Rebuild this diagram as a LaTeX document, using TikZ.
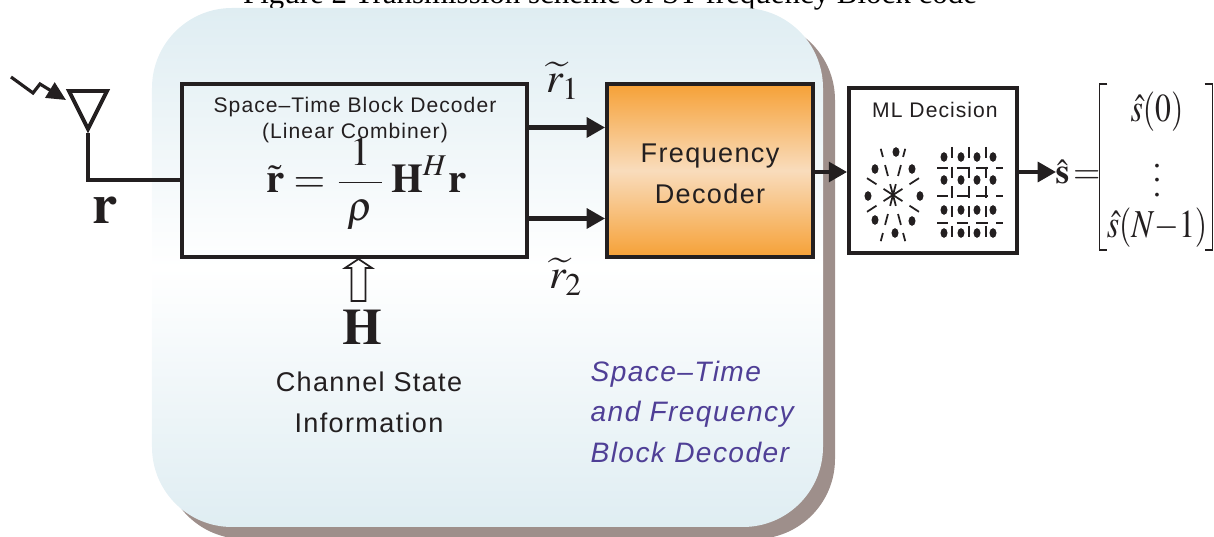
\documentclass[tikz,border=0pt]{standalone}
\usepackage[no-math]{fontspec}
\usepackage{amsmath}
\usepackage{mathptmx}
\setmainfont{Liberation Serif}
\newfontfamily\lblfont[LetterSpace=5]{Liberation Sans}
\usetikzlibrary{arrows.meta, positioning, shadows}
\definecolor{panelblue}{HTML}{DFEDF2}
\definecolor{panelshade}{HTML}{9E8F8B}
\definecolor{freqorange}{HTML}{F6A137}
\definecolor{freqlight}{HTML}{F9DCBC}
\definecolor{inkblack}{HTML}{231F20}
\definecolor{notepurple}{HTML}{4F3F96}

\begin{document}
\begin{tikzpicture}[node distance=0.8cm, inner sep=0pt,
  blk/.style={draw=inkblack,line width=1.15pt,align=center},
  lbl/.style={font=\fontsize{7.7}{11.6}\selectfont\lblfont,text=inkblack,align=center},
  sig/.style={-{Triangle[length=5.2pt,width=5.6pt]},line width=1.15pt,draw=inkblack},
  mth/.style={text=inkblack,font=\fontsize{11.6}{14}\selectfont}]
  \useasboundingbox (0,0) rectangle (12.14,5.37);
  \node[anchor=base,font=\fontsize{8.8}{10}\selectfont] (title) at (6.1,5.33) {Figure 2 Transmission scheme of ST-frequency Block code};

  % big rounded panel
  \node[minimum width=6.71cm,minimum height=5.19cm,rounded corners=0.8cm,top color=panelblue,bottom color=panelblue,middle color=white,
    drop shadow={shadow xshift=0.12cm,shadow yshift=-0.12cm,fill=panelshade,opacity=1}] (panel) at (4.875,2.695) {};

  \node[blk,minimum width=3.45cm,minimum height=1.73cm] (dec) at (3.545,3.665) {};
  \node[blk,minimum width=2.06cm,minimum height=1.73cm,right=0.76cm of dec,top color=freqorange,bottom color=freqorange,middle color=freqlight] (freq) {};
  \node[blk,fill=white,minimum width=1.68cm,minimum height=1.65cm,right=0.32cm of freq] (ml) {};

  \node[lbl,font=\fontsize{6}{7.4}\selectfont\lblfont] (dectxt) at (3.55,4.17) {Space–Time Block Decoder\\(Linear Combiner)};
  \node[mth] (eq) at (3.665,3.53) {$\displaystyle\tilde{\mathbf{r}}=\frac{\;1\;}{\;\rho\;}\,\mathbf{H}^{H}\mathbf{r}$};
  \node[lbl,yshift=-0.03cm] (freqtxt) at (freq) {Frequency\\Decoder};
  \node[lbl,font=\fontsize{6}{8}\selectfont\lblfont] (mltxt) at (9.35,4.27) {ML Decision};

  % antenna
  \coordinate (ant) at (0.88,4.04);
  \draw[line width=1.1pt,draw=inkblack] (0.69,4.46) -- (1.07,4.46) -- (0.88,4.08) -- cycle;
  \draw[line width=1.1pt,draw=inkblack] (ant) -- (0.88,3.57) -- (0.88,3.57 -| dec.west);
  \coordinate (bolt) at (0.11,4.6);
  \draw[-{Triangle[length=5.4pt,width=5pt]},line width=0.9pt,draw=inkblack] (bolt) -- (0.33,4.44) -- (0.4,4.53) -- (0.66,4.37);
  \node[mth,font=\fontsize{16}{20}\selectfont] (rin) at (1.05,3.27) {$\mathbf{r}$};

  % outputs
  \coordinate (upin) at ([yshift=0.43cm]freq.west);
  \coordinate (lowin) at ([yshift=-0.48cm]freq.west);
  \draw[sig] (dec.east |- upin) -- (upin);
  \draw[sig] (dec.east |- lowin) -- (lowin);
  \draw[sig] (freq.east |- 0,3.65) -- (ml.west |- 0,3.65);
  \coordinate (shat) at (10.56,3.65);
  \draw[sig] (ml.east |- shat) -- (shat);
  \node[mth,font=\fontsize{12}{14}\selectfont] (rt1) at (5.63,4.56) {$\widetilde{r}_{1}$};
  \node[mth,font=\fontsize{12}{14}\selectfont] (rt2) at (5.66,2.6) {$\widetilde{r}_{2}$};

  % csi
  \coordinate (htip) at (3.585,2.78);
  \draw[line width=0.5pt,draw=inkblack,fill=white] (htip) -- ++(0.135,-0.09) -- ++(-0.065,0) -- ++(0,-0.33) -- ++(-0.14,0) -- ++(0,0.33) -- ++(-0.065,0) -- cycle;
  \node[mth,font=\fontsize{14.5}{16}\selectfont] (hlab) at (3.62,2.1) {$\mathbf{H}$};
  \node[lbl] (csi) at (3.69,1.35) {Channel State\\Information};
  \node[lbl,text=notepurple,align=left,font=\fontsize{8}{11.6}\selectfont\lblfont\itshape,anchor=north west] (note) at (5.9,1.77) {Space–Time\\and Frequency\\Block Decoder};

  % constellations
  \foreach \x/\y in {8.96/3.85,8.75/3.68,9.12/3.68,8.68/3.41,9.2/3.41,8.75/3.17,9.12/3.16,8.95/3.04}
    \fill[inkblack] (\x,\y) ellipse (0.035 and 0.048);
  \foreach \a in {22.5,67.5,...,337.5}
    \draw[line width=0.5pt,draw=inkblack,dash pattern=on 3.2pt off 2.4pt] (8.93,3.42) -- ++({0.32*cos(\a)},{0.5*sin(\a)});
  \foreach \x in {9.44,9.61,9.77,9.93}
    \foreach \y in {3.80,3.57,3.27,3.04}
      \fill[inkblack] (\x,\y) ellipse (0.035 and 0.048);
  \foreach \x in {9.52,9.69,9.86}
    \draw[line width=0.5pt,draw=inkblack,dash pattern=on 3.2pt off 2.4pt] (\x,3.9) -- (\x,2.92);
  \foreach \y in {3.69,3.41,3.14}
    \draw[line width=0.5pt,draw=inkblack,dash pattern=on 3.2pt off 2.4pt] (9.37,\y) -- (10.03,\y);

  % output vector
  \node[mth,font=\fontsize{10}{13}\selectfont] (shatlab) at (10.78,3.65) {$\hat{\mathbf{s}}\,{=}$};
  \node[minimum width=1.12cm,minimum height=1.65cm] (vec) at (11.56,3.7) {};
  \node[mth,font=\fontsize{9}{11}\selectfont] (s0) at (11.57,4.25) {\scalebox{1}[1.25]{$\hat{s}(0)$}};
  \node[mth,font=\fontsize{9}{11}\selectfont] (sdots) at (11.57,3.67) {$\vdots$};
  \node[mth,font=\fontsize{9}{11}\selectfont] (sn) at (11.57,3.09) {\scalebox{1}[1.25]{$\hat{s}(N{-}1)$}};
  \draw[line width=0.45pt,draw=inkblack] ([xshift=0.08cm]vec.north west) -- (vec.north west) -- (vec.south west) -- ([xshift=0.08cm]vec.south west);
  \draw[line width=0.45pt,draw=inkblack] ([xshift=-0.08cm]vec.north east) -- (vec.north east) -- (vec.south east) -- ([xshift=-0.08cm]vec.south east);
\end{tikzpicture}
\end{document}
